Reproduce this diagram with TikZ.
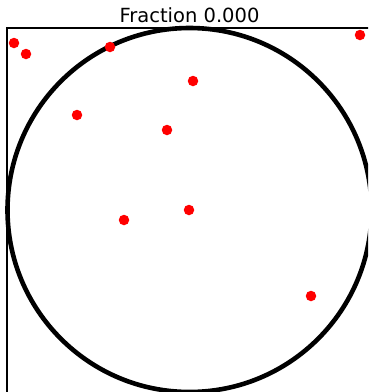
\documentclass[tikz,border=0pt]{standalone}
\usepackage{fontspec}
\setmainfont{DejaVu Sans}
\tikzset{dot/.style={circle,fill=red,inner sep=0pt,minimum size=10.5pt}}
\begin{document}
\begin{tikzpicture}[x=1pt,y=-1pt]
    \useasboundingbox (0,0) rectangle (368,392);
    \clip (0,0) rectangle (368,392);
    \fill[white] (0,0) rectangle (368,392);
    \coordinate (O) at (189.5,210); \coordinate (P) at (7,28);
    \coordinate (Q) at (372,393);
    \draw[line width=2.6pt] (P) rectangle (Q);
    \draw[line width=4.6pt] (O) circle (182);
    \node[font=\fontsize{19.5}{23}\selectfont] (title) at (189.5,15) {Fraction 0.000};
    \node[dot] (d1) at (14,43) {}; \node[dot] (d2) at (26,54) {};
    \node[dot] (d3) at (110,47) {}; \node[dot] (d4) at (360,35) {};
    \node[dot] (d5) at (193,81) {}; \node[dot] (d6) at (77,115) {};
    \node[dot] (d7) at (167,130) {}; \node[dot] (d8) at (124,220) {};
    \node[dot] (d9) at (189,210) {}; \node[dot] (d10) at (311,296) {};
  \end{tikzpicture}
\end{document}
